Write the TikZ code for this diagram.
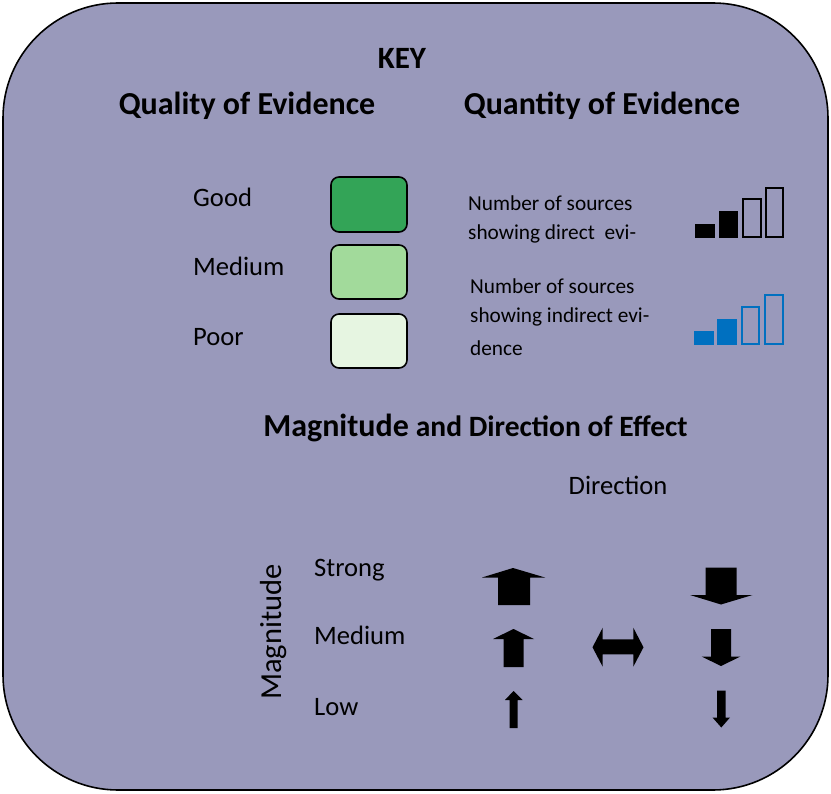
\documentclass[tikz,border=0pt]{standalone}
\usepackage{fontspec}
\setmainfont{Carlito}
\definecolor{bgc}{RGB}{153,153,187}
\definecolor{gGood}{RGB}{51,164,87}
\definecolor{gMed}{RGB}{162,218,155}
\definecolor{gPoor}{RGB}{230,245,225}
\definecolor{bblue}{RGB}{0,112,192}
\tikzset{
  head/.style={font=\fontsize{32}{38}\selectfont\bfseries, inner sep=0pt},
  lbl/.style={font=\fontsize{26.6}{32}\selectfont, inner sep=0pt, anchor=west},
  small/.style={font=\fontsize{21.3}{25}\selectfont, inner sep=0pt, anchor=west},
  qbox/.style={draw=black, line width=1.6pt, rounded corners=8pt},
  solidbar/.style={fill=black, draw=none},
  hollowbar/.style={draw=black, line width=2.4pt},
  bluesolid/.style={fill=bblue, draw=none},
  bluehollow/.style={draw=bblue, line width=2.4pt},
  arr/.style={fill=black, draw=none},
}
\begin{document}
\begin{tikzpicture}[x=1pt,y=-1pt]
\useasboundingbox (0,0) rectangle (831,794);
\draw[fill=bgc, line width=1.6pt, rounded corners=115pt] (3,3) rectangle (828,790);

\node[head, font=\fontsize{31}{36}\selectfont\bfseries] (key) at (402,58) {KEY};
\node[head] (qual) at (247,106) {Quality of Evidence};
\node[head] (quant) at (602,106) {Quantity of Evidence};

\node[lbl] (good) at (193,197) {Good};
\node[lbl] (medium) at (193,266) {Medium};
\node[lbl] (poor) at (193,337) {Poor};

\draw[qbox, fill=gGood] (331,177) rectangle (407,232);
\draw[qbox, fill=gMed] (331,245) rectangle (407,299);
\draw[qbox, fill=gPoor] (331,314) rectangle (407,368);

\node[small] (d1) at (468,203) {Number of sources};
\node[small] (d2) at (468,234) {showing direct\ \ evi-};
\node[small] (i1) at (470,286) {Number of sources};
\node[small] (i2) at (470,317) {showing indirect evi-};
\node[small] (i3) at (470,348) {dence};

\fill[solidbar] (695,224) rectangle (715,238);
\fill[solidbar] (719,211) rectangle (738,238);
\draw[hollowbar] (743,199) rectangle (761,237);
\draw[hollowbar] (766,188) rectangle (783,237);

\fill[bluesolid] (694,331) rectangle (714,345);
\fill[bluesolid] (717,319) rectangle (737,345);
\draw[bluehollow] (742,307) rectangle (759,344);
\draw[bluehollow] (765,295) rectangle (783,344);

\node[inner sep=0pt] (mag) at (475.5,428) {\bfseries{\fontsize{32}{38}\selectfont Magnitude}\hspace{7pt}{\fontsize{29.5}{35}\selectfont and Direction of Effect}};
\node[lbl, anchor=center] (dir) at (618,485) {Direction};
\node[lbl, anchor=center, rotate=90, font=\fontsize{30.5}{36}\selectfont] (magv) at (274,632) {Magnitude};

\node[lbl] (strong) at (314,570) {Strong};
\node[lbl] (med2) at (314,635) {Medium};
\node[lbl] (low) at (314,707) {Low};

% up arrows
\fill[arr] (513,568) -- (545,577.5) -- (530,577.5) -- (530,605) -- (498,605) -- (498,577.5) -- (482,577.5) -- cycle;
\fill[arr] (513.5,629) -- (534,639) -- (523.5,639) -- (523.5,667) -- (503.5,667) -- (503.5,639) -- (493,639) -- cycle;
\fill[arr] (513.5,691) -- (522.5,700) -- (517.5,700) -- (517.5,728) -- (509.5,728) -- (509.5,700) -- (505,700) -- cycle;
% down arrows
\fill[arr] (705.5,567.5) -- (736.5,567.5) -- (736.5,595) -- (752.5,595) -- (721,604.5) -- (690,595) -- (705.5,595) -- cycle;
\fill[arr] (711,629) -- (731,629) -- (731,656.5) -- (740.5,656.5) -- (721,666) -- (701.5,656.5) -- (711,656.5) -- cycle;
\fill[arr] (717,690.5) -- (725.5,690.5) -- (725.5,717.5) -- (730,717.5) -- (721.3,727.5) -- (712.5,717.5) -- (717,717.5) -- cycle;
% double arrow
\fill[arr] (592.5,647.3) -- (602.7,627.7) -- (602.7,639.3) -- (633.3,639.3) -- (633.3,627.7) -- (643.5,647.3) -- (633.3,666.7) -- (633.3,654.3) -- (602.7,654.3) -- (602.7,666.7) -- cycle;
\end{tikzpicture}
\end{document}
